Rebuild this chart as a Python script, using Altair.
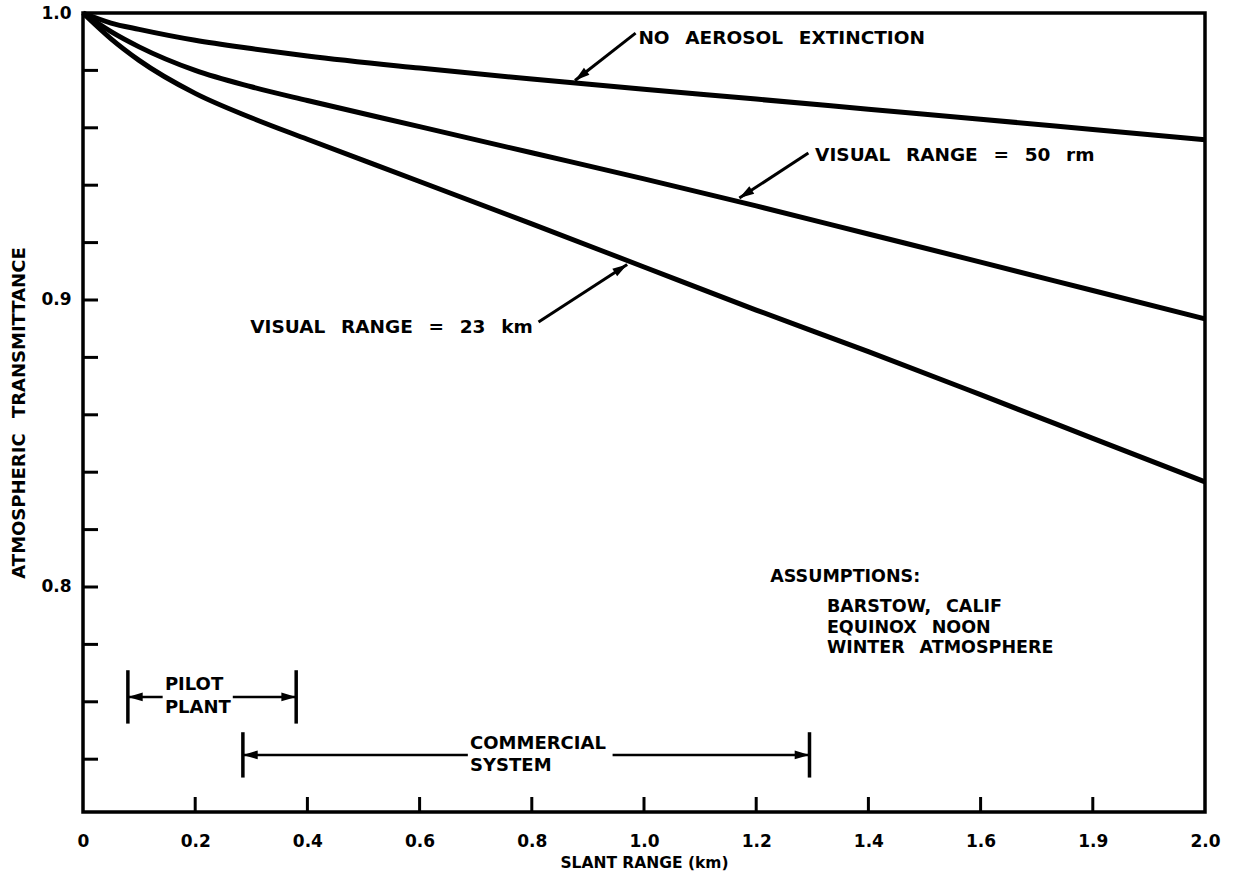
import math
import altair as alt
import pandas as pd

# ---- curve data: atmospheric transmittance vs slant range ----
slant_km = [0.0, 0.05, 0.1, 0.2, 0.3, 0.4, 0.6, 0.8, 1.0, 1.2, 1.4, 1.6, 1.8, 2.0]
no_aerosol = [1.0, 0.9965, 0.9943, 0.9905, 0.9876, 0.9850, 0.9808, 0.9770, 0.9734,
              0.9700, 0.9665, 0.9630, 0.9594, 0.9558]
vis_50 = [1.0, 0.9935, 0.9882, 0.9800, 0.9743, 0.9695, 0.9604, 0.9513, 0.9422,
          0.9328, 0.9230, 0.9132, 0.9033, 0.8934]
vis_23 = [1.0, 0.9910, 0.9835, 0.9720, 0.9635, 0.9560, 0.9413, 0.9265, 0.9115,
          0.8965, 0.8820, 0.8670, 0.8518, 0.8366]
series_names = ["no_aerosol", "vis_50", "vis_23"]

# ---- axis ticks and labels ----
x_tick_values = [0.0, 0.2, 0.4, 0.6, 0.8, 1.0, 1.2, 1.4, 1.6, 1.8, 2.0]
x_tick_labels = ["0", "0.2", "0.4", "0.6", "0.8", "1.0", "1.2", "1.4", "1.6", "1.9", "2.0"]
y_tick_values = [0.74, 0.76, 0.78, 0.80, 0.82, 0.84, 0.86, 0.88, 0.90, 0.92, 0.94, 0.96, 0.98]
y_label_values = [0.8, 0.9, 1.0]

X_DOMAIN = [0.0, 2.0]
Y_DOMAIN = [0.7216, 1.0]
W, H = 1122, 799
TICK_LEN = 15
FONT = "DejaVu Sans"
INK = "#000000"


def spaced(s):
    # wide typewriter-style word gaps
    return s.replace(" ", "\u2002 ")


# ---- callouts: text, leader lines and arrowheads ----
callout_text = [spaced("NO AEROSOL EXTINCTION"), spaced("VISUAL RANGE = 50 rm"),
                spaced("VISUAL RANGE = 23 km")]
callout_x = [0.99, 1.305, 0.298]
callout_y = [0.9913, 0.9505, 0.8906]

leader_x1 = [0.985, 1.293, 0.812]
leader_y1 = [0.9930, 0.9512, 0.8923]
leader_x2 = [0.877, 1.170, 0.970]
leader_y2 = [0.9765, 0.9355, 0.9124]

notes_title = "ASSUMPTIONS:"
notes_lines = ["BARSTOW, CALIF", "EQUINOX NOON", "WINTER ATMOSPHERE"]
notes_title_pos = (1.225, 0.8035)
notes_x = 1.326
notes_y = [0.7930, 0.7857, 0.7788]

# span brackets
span_labels = [["PILOT", "PLANT"], ["COMMERCIAL", "SYSTEM"]]
span_x0 = [0.08, 0.285]
span_x1 = [0.38, 1.295]
span_mid = [0.7617, 0.7415]
span_half = [0.0093, 0.0079]
span_text_x = [0.146, 0.69]
span_text_end = [0.263, 0.94]
span_line_dy = [0.0040, 0.0037]

xs = alt.Scale(domain=X_DOMAIN, nice=False, zero=False)
ys = alt.Scale(domain=Y_DOMAIN, nice=False, zero=False)

lab_expr = "[" + ",".join("'%s'" % s for s in x_tick_labels) + "][round(datum.value*5)]"
x_axis = alt.Axis(
    values=x_tick_values, labelExpr=lab_expr, ticks=False, domain=False, grid=False,
    title="SLANT RANGE (km)", labelPadding=21, titlePadding=6,
    labelFontSize=17, titleFontSize=15.5, labelFlush=False)
y_axis = alt.Axis(
    values=y_label_values, format=".1f", ticks=False, domain=False, grid=False,
    title=spaced("ATMOSPHERIC TRANSMITTANCE"), labelPadding=12, titlePadding=12,
    labelFontSize=17, titleFontSize=18, labelFlush=False)

px_x = W / (X_DOMAIN[1] - X_DOMAIN[0])
px_y = H / (Y_DOMAIN[1] - Y_DOMAIN[0])


def head_angle(x1, y1, x2, y2):
    dx = (x2 - x1) * px_x
    dy = -(y2 - y1) * px_y
    return math.degrees(math.atan2(dx, -dy)) % 360


def X(field):
    return alt.X(field, scale=xs, axis=x_axis)


def Y(field):
    return alt.Y(field, scale=ys, axis=y_axis)


# curves table
rows = []
for name, vals in zip(series_names, [no_aerosol, vis_50, vis_23]):
    for k, v in zip(slant_km, vals):
        rows.append({"km": k, "t": v, "series": name})
curves_df = pd.DataFrame(rows)

curves = alt.Chart(curves_df).mark_line(
    color=INK, strokeWidth=5, interpolate="monotone"
).encode(x=X("km:Q"), y=Y("t:Q"), detail="series:N")

# inward tick marks
xt_df = pd.DataFrame({"km": x_tick_values[1:-1]})
x_ticks = alt.Chart(xt_df).mark_rule(color=INK, strokeWidth=3).encode(
    x=X("km:Q"), y=alt.value(H), y2=alt.value(H - TICK_LEN),
)
yt_df = pd.DataFrame({"t": y_tick_values})
y_ticks = alt.Chart(yt_df).mark_rule(color=INK, strokeWidth=3).encode(
    y=Y("t:Q"), x=alt.value(0), x2=alt.value(TICK_LEN),
)

# callout leaders
lead_df = pd.DataFrame({"km": leader_x1, "t": leader_y1, "km2": leader_x2, "t2": leader_y2})
leaders = alt.Chart(lead_df).mark_rule(color=INK, strokeWidth=3).encode(
    x=X("km:Q"), y=Y("t:Q"), x2="km2:Q", y2="t2:Q",
)

# span brackets: end bars, arrow shafts and heads
bar_rows, shaft_rows, head_rows = [], [], []
for i in range(len(span_labels)):
    for xb in (span_x0[i], span_x1[i]):
        bar_rows.append({"km": xb, "t": span_mid[i] - span_half[i], "t2": span_mid[i] + span_half[i]})
    shaft_rows.append({"km": span_x0[i], "km2": span_text_x[i] - 0.004, "t": span_mid[i]})
    shaft_rows.append({"km": span_text_end[i] + 0.004, "km2": span_x1[i], "t": span_mid[i]})
    head_rows.append({"km": span_x0[i], "t": span_mid[i], "ang": 270.0})
    head_rows.append({"km": span_x1[i], "t": span_mid[i], "ang": 90.0})
for i in range(len(leader_x1)):
    head_rows.append({"km": leader_x2[i], "t": leader_y2[i],
                      "ang": head_angle(leader_x1[i], leader_y1[i], leader_x2[i], leader_y2[i])})

bars = alt.Chart(pd.DataFrame(bar_rows)).mark_rule(color=INK, strokeWidth=3.5).encode(
    x=X("km:Q"), y=Y("t:Q"), y2="t2:Q",
)
shafts = alt.Chart(pd.DataFrame(shaft_rows)).mark_rule(color=INK, strokeWidth=2.5).encode(
    x=X("km:Q"), x2="km2:Q", y=Y("t:Q"),
)
ARROW_PATH = "M0,0 L0.6,2 L-0.6,2 Z"
heads = alt.Chart(pd.DataFrame(head_rows)).mark_point(
    shape=ARROW_PATH, filled=True, size=220, color=INK, opacity=1, strokeWidth=0
).encode(
    x=X("km:Q"), y=Y("t:Q"), angle=alt.Angle("ang:Q", scale=None),
)

# text
text_rows = []
for t, x, y in zip(callout_text, callout_x, callout_y):
    text_rows.append({"km": x, "t": y, "label": t, "size": 18.5})
text_rows.append({"km": notes_title_pos[0], "t": notes_title_pos[1],
                  "label": spaced(notes_title), "size": 17.5})
for t, y in zip(notes_lines, notes_y):
    text_rows.append({"km": notes_x, "t": y, "label": spaced(t), "size": 17.5})
for i, lines in enumerate(span_labels):
    text_rows.append({"km": span_text_x[i], "t": span_mid[i] + span_line_dy[i], "label": lines[0], "size": 18})
    text_rows.append({"km": span_text_x[i], "t": span_mid[i] - span_line_dy[i], "label": lines[1], "size": 18})

texts = alt.Chart(pd.DataFrame(text_rows)).mark_text(
    align="left", baseline="middle", font=FONT, fontWeight="bold", color=INK
).encode(
    x=X("km:Q"), y=Y("t:Q"), text="label:N", size=alt.Size("size:Q", scale=None),
)

chart = alt.layer(curves, x_ticks, y_ticks, leaders, bars, shafts, heads, texts).properties(
    width=W, height=H,
    autosize=alt.AutoSizeParams(type="none"),
    padding={"left": 83, "top": 13, "right": 36, "bottom": 68},
    background="white",
).configure_view(
    stroke=INK, strokeWidth=3.5
).configure_axis(
    labelFont=FONT, titleFont=FONT, labelFontWeight="bold", titleFontWeight="bold",
    labelColor=INK, titleColor=INK,
)

chart.save("out.html", embed_options={"renderer": "svg", "actions": False})
